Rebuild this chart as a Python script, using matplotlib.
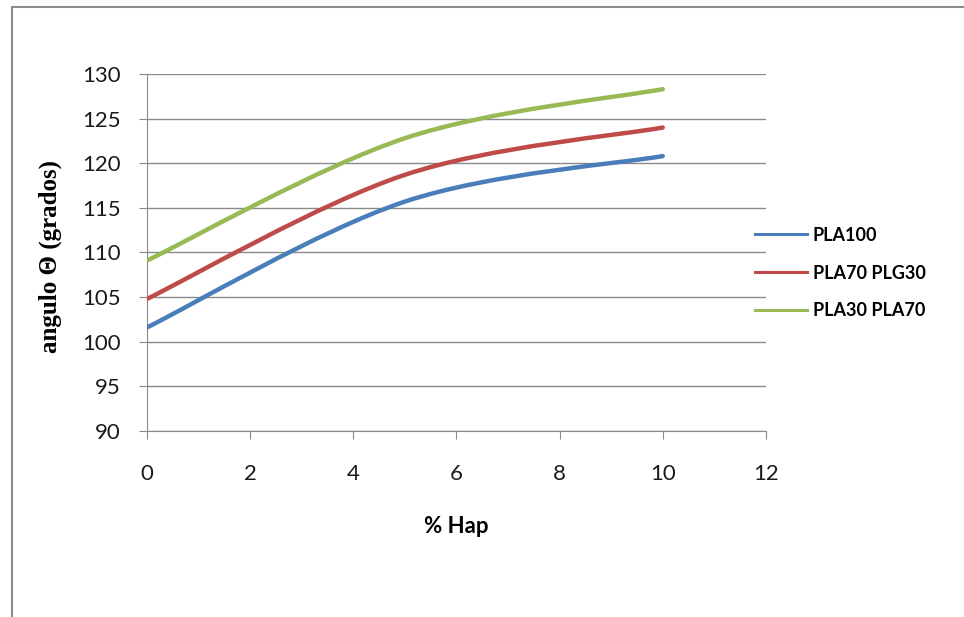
import matplotlib
matplotlib.use("Agg")
import matplotlib.pyplot as plt
from matplotlib.path import Path
from matplotlib.patches import PathPatch, Rectangle
from matplotlib.lines import Line2D

# % Hap content and contact angle for each blend
hap = [0, 5, 10]
pla100 = [101.6, 115.7, 120.8]
pla70_plg30 = [104.8, 118.7, 124.0]
pla30_pla70 = [109.1, 122.8, 128.3]

names = ["PLA100", "PLA70 PLG30", "PLA30 PLA70"]
colors = ["#4A7EBB", "#BE4B48", "#98B954"]

plt.rcParams['font.family'] = ['Lato', 'DejaVu Sans']


def smooth_path(xs, ys):
    # bezier segments through every point, control points from neighbours
    pts = list(zip(xs, ys))
    n = len(pts)
    verts = [pts[0]]
    codes = [Path.MOVETO]
    for i in range(n - 1):
        p0 = pts[i - 1] if i > 0 else pts[i]
        p1 = pts[i]
        p2 = pts[i + 1]
        p3 = pts[i + 2] if i + 2 < n else pts[i + 1]
        c1 = (p1[0] + (p2[0] - p0[0]) / 6, p1[1] + (p2[1] - p0[1]) / 6)
        c2 = (p2[0] - (p3[0] - p1[0]) / 6, p2[1] - (p3[1] - p1[1]) / 6)
        verts += [c1, c2, p2]
        codes += [Path.CURVE4] * 3
    return Path(verts, codes)


fig = plt.figure(figsize=(9.64, 6.17), dpi=100)
ax = fig.add_axes([0.1525, 0.3015, 0.642, 0.5786])

# outer chart border
fig.patches.append(Rectangle((12 / 964, -0.1), 1.2, 1 - 7 / 617 + 0.1,
                             transform=fig.transFigure, fill=False,
                             edgecolor="#8c8c8c", linewidth=1.5))

handles = []
for ys, name, c in zip([pla100, pla70_plg30, pla30_pla70], names, colors):
    ax.add_patch(PathPatch(smooth_path(hap, ys), fill=False, edgecolor=c,
                           linewidth=3.2, capstyle='round', zorder=3))
    handles.append(Line2D([], [], color=c, linewidth=2.2, label=name))

ax.set_xlim(0, 12)
ax.set_ylim(90, 130)
ax.set_xticks(range(0, 13, 2))
ax.set_yticks(range(90, 131, 5))
ax.grid(axis='y', color="#8a8a8a", linewidth=1)
ax.set_axisbelow(True)
for s in ['top', 'right']:
    ax.spines[s].set_visible(False)
for s in ['left', 'bottom']:
    ax.spines[s].set_color("#8a8a8a")
ax.tick_params(direction='out', length=6, color="#8a8a8a", labelsize=16,
               labelcolor="#1a1a1a")
ax.tick_params(axis='x', pad=17.5)
ax.tick_params(axis='y', pad=13)

ax.set_xlabel("% Hap", fontsize=16, fontweight='bold')
ax.xaxis.set_label_coords(0.5, -0.237)
ax.set_ylabel("angulo Θ (grados)", fontsize=18, fontweight='bold',
              family=['Liberation Serif', 'DejaVu Serif'])
ax.yaxis.set_label_coords(-0.137, 0.49)

fig.legend(handles=handles, loc='center left', bbox_to_anchor=(0.783, 0.5575),
           frameon=False, handlelength=2.9, handletextpad=0.3,
           labelspacing=1.15, borderpad=0, borderaxespad=0,
           prop={'weight': 'bold', 'size': 13})

fig.savefig("out.png", dpi=100, facecolor="white")
